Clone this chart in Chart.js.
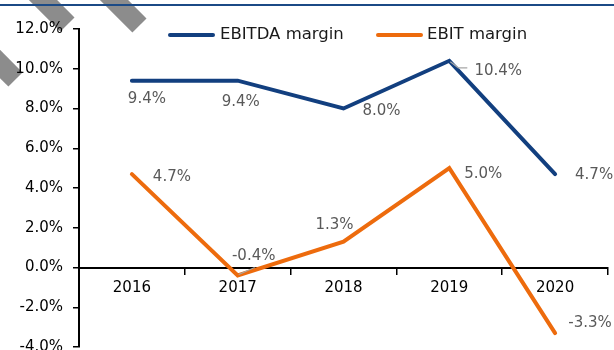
<!DOCTYPE html>
<html>
<head>
<meta charset="utf-8">
<script src="https://cdn.jsdelivr.net/npm/chart.js@4"></script>
<style>
  html, body { margin: 0; padding: 0; background: #fff; }
  #wrap { position: relative; width: 614px; height: 350px; overflow: hidden; background: #fff; }
  .stripe { position: absolute; height: 20px; width: 72px; background: #8c8c8c; transform: rotate(45deg); z-index: 0; }
  #rule { position: absolute; left: 0; top: 4px; width: 614px; height: 2px; background: #1b4a86; z-index: 2; }
  #marginChart { position: absolute; left: 0; top: 0; z-index: 1; }
  .legend { position: absolute; top: 24px; z-index: 3; font-family: "DejaVu Sans", sans-serif; font-size: 16.5px; color: #1a1a1a; line-height: 20px; white-space: nowrap; }
  .legend i { position: absolute; top: 9px; height: 4px; border-radius: 2px; }
</style>
</head>
<body>
<div id="wrap">
  <div class="stripe" style="left:6px; top:-11px;"></div>
  <div class="stripe" style="left:78px; top:-10px;"></div>
  <div class="stripe" style="left:-46px; top:44px;"></div>
  <div id="rule"></div>
  <canvas id="marginChart" width="614" height="366"></canvas>
  <div class="legend" style="left:168px;"><i style="left:0; width:47px; background:#123f7f;"></i><span style="position:absolute; left:52px;">EBITDA margin</span></div>
  <div class="legend" style="left:376px;"><i style="left:0; width:47px; background:#ed6b0d;"></i><span style="position:absolute; left:51px;">EBIT margin</span></div>
</div>
<script>
const years = ["2016", "2017", "2018", "2019", "2020"];
const ebitdaMargin = [9.4, 9.4, 8.0, 10.4, 4.7];
const ebitMargin = [4.7, -0.4, 1.3, 5.0, -3.3];
const yTicks = [-4, -2, 0, 2, 4, 6, 8, 10, 12];

const BLUE = "#123f7f";
const ORANGE = "#ed6b0d";
const FONT = "DejaVu Sans";

// where each value label sits relative to its point (dx, dy)
const labelOffsets = [
  [[15, 18], [3, 21], [38, 3], [49, 10], [39, 1]],
  [[40, 3], [16, -19], [-9, -17], [34, 6], [35, -10]],
];

const valueLabels = {
  id: "valueLabels",
  afterDatasetsDraw(chart) {
    const ctx = chart.ctx;
    ctx.save();
    ctx.font = "15px '" + FONT + "'";
    ctx.fillStyle = "#595959";
    ctx.textAlign = "center";
    ctx.textBaseline = "middle";
    chart.data.datasets.forEach((ds, di) => {
      chart.getDatasetMeta(di).data.forEach((pt, i) => {
        const [dx, dy] = labelOffsets[di][i];
        ctx.fillText(ds.data[i].toFixed(1) + "%", pt.x + dx, pt.y + dy);
      });
    });

    // short leader lines for the two labels pushed away from their points
    ctx.strokeStyle = "#a6a6a6";
    ctx.lineWidth = 1.2;
    const p19 = chart.getDatasetMeta(0).data[3];
    ctx.beginPath();
    ctx.moveTo(p19.x + 1, p19.y + 1);
    ctx.lineTo(p19.x + 9, p19.y + 7);
    ctx.lineTo(p19.x + 18, p19.y + 7);
    ctx.stroke();
    const p17 = chart.getDatasetMeta(1).data[1];
    ctx.beginPath();
    ctx.moveTo(p17.x + 1, p17.y - 1);
    ctx.lineTo(p17.x + 17, p17.y - 8);
    ctx.stroke();
    ctx.restore();
  },
};

new Chart(document.getElementById("marginChart"), {
  type: "line",
  data: {
    labels: years,
    datasets: [
      {
        label: "EBITDA margin",
        data: ebitdaMargin,
        borderColor: BLUE,
        backgroundColor: BLUE,
        borderWidth: 4,
        pointRadius: 0,
        tension: 0,
        borderCapStyle: "round",
      },
      {
        label: "EBIT margin",
        data: ebitMargin,
        borderColor: ORANGE,
        backgroundColor: ORANGE,
        borderWidth: 4,
        pointRadius: 0,
        tension: 0,
        borderCapStyle: "round",
      },
    ],
  },
  options: {
    responsive: false,
    animation: false,
    devicePixelRatio: 1,
    layout: { padding: { top: 29, right: 6, bottom: 8, left: 0 } },
    plugins: {
      legend: { display: false },
      tooltip: { enabled: false },
    },
    scales: {
      x: {
        position: { y: 0 },
        offset: true,
        grid: {
          display: true,
          offset: true,
          drawOnChartArea: false,
          drawTicks: true,
          tickLength: 6,
          color: "#000",
          lineWidth: 1.5,
        },
        border: { display: true, color: "#000", width: 2 },
        ticks: {
          color: "#000",
          padding: 6,
          font: { family: FONT, size: 15 },
        },
      },
      y: {
        min: yTicks[0],
        max: yTicks[yTicks.length - 1],
        afterFit(scale) {
          scale.width = 79;
        },
        afterBuildTicks(scale) {
          scale.ticks = yTicks.map((v) => ({ value: v }));
        },
        grid: {
          display: true,
          drawOnChartArea: false,
          drawTicks: true,
          tickLength: 6,
          color: "#000",
          lineWidth: 1.5,
        },
        border: { display: true, color: "#000", width: 2 },
        ticks: {
          color: "#000",
          padding: 10,
          font: { family: FONT, size: 15 },
          callback: (v) => v.toFixed(1) + "%",
        },
      },
    },
  },
  plugins: [valueLabels],
});
</script>
</body>
</html>
